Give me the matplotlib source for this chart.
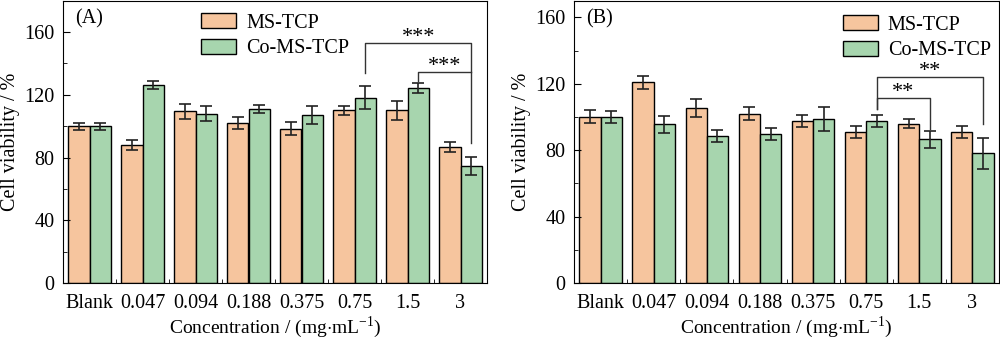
import numpy as np
import matplotlib
matplotlib.use("Agg")
import matplotlib.pyplot as plt

plt.rcParams['font.family'] = ['Liberation Serif', 'DejaVu Serif']
plt.rcParams['mathtext.fontset'] = 'custom'
plt.rcParams['mathtext.rm'] = 'Liberation Serif'

concs = ['Blank', '0.047', '0.094', '0.188', '0.375', '0.75', '1.5', '3']

# panel A
ms_a = [100, 88, 109.5, 102, 98.5, 110, 110, 86.5]
ms_a_err = [2.3, 3, 4.8, 4, 4, 2.6, 6, 3.2]
co_a = [100, 126.5, 108, 111, 107, 118, 124.5, 74.5]
co_a_err = [2.3, 2.5, 4.9, 2.8, 5.7, 7.3, 3.3, 5.6]

# panel B
ms_b = [100, 121, 105.5, 102, 97.5, 91, 96, 91]
ms_b_err = [3.9, 3.9, 5.6, 3.9, 3.8, 3.6, 2.7, 3.6]
co_b = [100, 95.5, 88.5, 89.5, 98.5, 97.5, 86.5, 78]
co_b_err = [3.5, 5, 3.8, 3.6, 7.2, 3.6, 5, 9.6]

orange = '#F6C59E'
green = '#A7D5AE'

fig = plt.figure(figsize=(10, 3.39), dpi=100)
ax1 = fig.add_axes([0.063, 0.165, 0.424, 0.833])
ax2 = fig.add_axes([0.574, 0.165, 0.425, 0.833])


def draw_panel(ax, ms, ms_err, co, co_err, ymax, tag):
    x = np.arange(len(concs))
    w = 0.4
    ekw = dict(ecolor='#222222', elinewidth=1.2, capsize=4, capthick=1.2)
    ax.bar(x - w / 2, ms, w, yerr=ms_err, color=orange, edgecolor='black',
           linewidth=1, label='MS-TCP', error_kw=ekw)
    ax.bar(x + w / 2, co, w, yerr=co_err, color=green, edgecolor='black',
           linewidth=1, label='Co-MS-TCP', error_kw=ekw)
    ax.set_xlim(-0.5, len(concs) - 0.5)
    ax.set_ylim(0, ymax)
    ax.set_xticks(x)
    ax.set_xticklabels(concs)
    ax.set_xticks(x[:-1] + 0.5, minor=True)
    ax.set_yticks([0, 40, 80, 120, 160])
    ax.set_yticks(np.arange(20, 180, 40), minor=True)
    ax.tick_params(axis='x', which='major', length=0, labelsize=14.5, pad=8)
    ax.tick_params(axis='x', which='minor', direction='in', length=3)
    ax.tick_params(axis='y', which='major', direction='in', length=5,
                   labelsize=14.5, pad=6)
    ax.tick_params(axis='y', which='minor', direction='in', length=3)
    ax.set_xlabel(r'Concentration / (mg$\cdot$mL$^{-1}$)', fontsize=14, labelpad=0.5)
    ax.set_ylabel('Cell viability / %', fontsize=14.5, labelpad=3)
    ax.text(0.028, 0.935, tag, transform=ax.transAxes, fontsize=14.5, va='center')
    return x + w / 2


def bracket(ax, x0, x1, y_top, y0, y1, label):
    ax.plot([x0, x0, x1, x1], [y0, y_top, y_top, y1], color='#333333', lw=1)
    ax.text((x0 + x1) / 2, y_top + 0.5, label, ha='center', va='baseline',
            fontsize=16)


legend_kw = dict(loc='upper left', frameon=False, fontsize=14.5,
                 handlelength=1.75, handleheight=0.75, borderpad=0,
                 borderaxespad=0, labelspacing=0.3, handletextpad=0.5)

xa = draw_panel(ax1, ms_a, ms_a_err, co_a, co_a_err, 180, '(A)')
bracket(ax1, xa[5], xa[7], 153, 134, 89, '***')
bracket(ax1, xa[6], xa[7], 134.5, 129, 134.5, '***')
ax1.legend(bbox_to_anchor=(0.325, 0.955), **legend_kw)

xb = draw_panel(ax2, ms_b, ms_b_err, co_b, co_b_err, 170, '(B)')
bracket(ax2, xb[5], xb[7], 124, 105, 96, '**')
bracket(ax2, xb[5], xb[6], 111.5, 105, 93, '**')
ax2.legend(bbox_to_anchor=(0.632, 0.948), **legend_kw)

fig.savefig('out.png', dpi=100)
